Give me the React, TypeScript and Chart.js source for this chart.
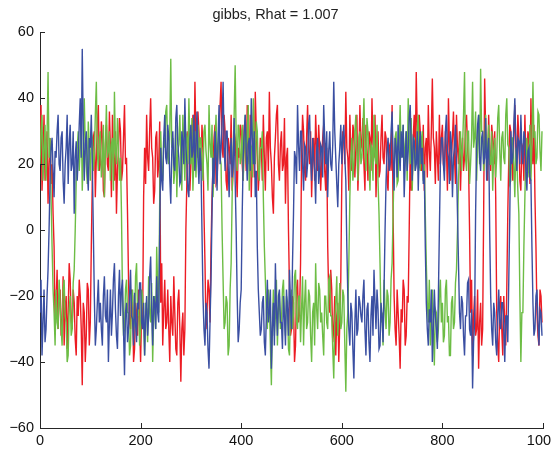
import React, { useEffect, useRef } from "react";
import { Chart, registerables } from "chart.js";

Chart.register(...registerables);

// Iteration index of each stored sample (every 2nd Gibbs iteration)
const iterations: number[] = Array.from({ length: 500 }, (_, i) => i * 2);

const xTicks = [0, 200, 400, 600, 800, 1000];
const yTicks = [-60, -40, -20, 0, 20, 40, 60];
const titleText = "gibbs, Rhat = 1.007";

// Chain 1 (red)
const redChain: number[] = [
  25, 38, 12, 22, 35, 15, 18, 30, 8, 20, 28, 14, 20, 5, -5, -28, -22, -12, -30, -20,
  -18, -32, -28, -14, -35, -24, -20, -36, -25, -10, -15, -27, -30, -18, -22, -33, -38, -20, -26, -15,
  -20, -30, -47, -22, -25, -40, -32, -16, -18, -35, -28, -5, 15, 28, 30, 10, 22, 32, 38, 18,
  20, 33, 28, 12, 10, 26, 32, 20, 18, 36, 25, 10, 35, 22, 15, 30, 5, 18, 24, 34,
  30, 15, 18, 28, 38, 20, 22, 5, -15, -28, -30, -18, -20, -40, -36, -22, -25, -32, -18, -28,
  -40, -25, -28, 10, 25, 14, 35, 22, 18, 30, 40, 25, 22, 8, 12, 28, 30, 16, 20, 33,
  -22, -10, -35, -24, -15, -30, -28, -18, -30, -40, -20, -28, -32, -14, -25, -36, -38, -22, -18, -30,
  -46, -30, -25, -38, -30, 0, 15, 30, 28, 12, 20, 25, 35, 18, 45, 28, 22, 36, 30, 20,
  18, 32, 25, 5, -10, -30, -25, -15, -18, -28, -5, 10, 20, 28, 32, 14, 15, 25, 28, 38,
  45, 25, 22, 35, 30, 15, 12, 28, 25, 20, 35, 12, 18, 30, 28, 20, 10, 25, 22, 32,
  30, 20, 15, 32, 25, 18, 38, 22, 20, 35, 10, 24, 28, 16, 42, 30, 22, 12, 18, 28,
  25, 15, 35, 22, 12, 28, 30, 18, 42, 25, 20, 10, 5, 22, 28, 35, 38, 20, 15, 26,
  30, 18, 20, 34, 8, 22, 25, 0, -18, -32, -30, -20, -22, -40, -35, -18, -15, -28, -25, -10,
  22, 35, 30, 18, 15, 28, 38, 24, 20, 30, 10, 22, 28, 15, 35, 26, 18, 32, 25, 12,
  20, 28, 32, 18, 12, 25, -5, -20, -25, -12, -18, -34, -30, -20, -38, -26, -22, -40, -28, -15,
  15, 30, 28, 20, 42, 25, 22, 12, 35, 24, 18, 32, 30, 16, 25, 35, 12, 22, 38, 26,
  25, 34, 20, 12, 32, 24, 15, 30, 28, 18, 40, 26, 22, 35, 10, 22, 30, 16, 18, 28,
  35, 22, 20, 30, 28, 15, 12, 26, 25, 18, 38, 5, -20, -30, -35, -18, -25, -32, -42, -24,
  -28, -15, -18, -35, -32, -20, -22, 0, 25, 12, 15, 28, 35, 22, 48, 30, 20, 35, 30, 18,
  22, 32, 12, 25, 28, 16, 38, 24, 18, 30, 46, 28, 25, 14, 30, 22, 15, 35, 20, 28,
  32, 20, 18, 30, 25, 12, 40, 26, 15, 22, 28, 36, 22, 14, 35, 25, 20, 30, 12, 24,
  28, 18, 22, 32, 35, 25, 20, 0, -25, -15, -38, -26, -20, -32, -30, -18, -42, -28, -22, -35,
  -30, 5, 46, 30, 25, 15, 35, 22, 18, 32, 28, 20, 30, 10, -25, -35, -40, -22, -20, -30,
  -38, -20, -28, -35, -18, 5, 22, 32, 30, 20, 15, 28, 38, 25, 20, 35, 28, 15, 12, 26,
  25, 15, 35, 22, 18, 30, 28, 14, 40, 25, 20, 32, 10, -5, -25, -32, -35, -18, -20, -28,
];

// Chain 2 (green)
const greenChain: number[] = [
  20, 30, 35, 15, 25, 32, 15, 28, 48, 22, 28, 10, -5, -18, -25, -35, -18, -28, -30, -15,
  -22, -30, -35, -18, -15, -26, -28, -40, -38, -24, -20, -32, -30, -16, -12, 0, 15, 25, 30, 18,
  25, 35, 12, 22, 40, 26, 20, 14, 33, 25, 15, 30, 28, 18, 22, 35, 45, 24, 18, 28,
  30, 16, 20, 32, 10, 25, 38, 22, 24, 30, 15, 26, 28, 12, 42, 24, 20, 34, 25, 15,
  22, 5, -20, -32, -30, -18, -15, -25, -25, -38, -35, -20, -18, -30, -28, -14, -10, -26, -22, -35,
  -30, -18, -20, -28, -38, -22, -24, -34, -14, -25, -28, -16, -40, -26, -20, -30, -5, -18, -25, 10,
  30, 18, 15, 28, 25, 36, 38, 22, 20, 30, 52, 25, 28, 14, 18, 32, 10, 24, 26, 35,
  22, 12, 35, 24, 15, 30, 28, 20, 40, 26, 20, 34, 12, 22, 30, 16, 25, 32, 18, 28,
  28, 20, 15, 30, 32, 24, 20, 12, 38, 26, 22, 32, 10, 20, 27, 35, 18, 25, 30, 22,
  20, 0, -15, -30, -28, -20, -22, -38, -35, -18, -10, 10, 25, 35, 50, 28, 18, 32, 30, 20,
  22, 32, 15, 26, 35, 20, 28, 38, 12, 24, 25, 16, 40, 28, 20, 33, 30, 18, 15, 25,
  25, 30, 10, -5, -15, -25, -30, -18, -22, -35, -47, -28, -18, -32, -26, -15, -35, -24, -20, -30,
  -28, -18, -15, -26, -32, -20, -22, -36, -38, -24, -18, -30, -25, -14, -12, -28, -30, -20, -20, -34,
  -24, -14, -35, -22, -15, -30, -28, -18, -20, -32, -40, -25, -22, -35, -10, -24, -30, -16, -18, -28,
  -25, -32, -38, -20, -20, -28, -30, -15, -14, -26, -26, -36, -45, -28, -22, -14, -32, -25, -16, -30,
  -28, -18, -20, -35, -49, -30, -25, -10, 10, 22, 28, 15, 20, 30, 35, 24, 15, 28, 30, 20,
  22, 30, 40, 25, 18, 34, 30, 20, 12, 26, 25, 15, 35, 22, 20, 32, 15, 5, -10, -28,
  -25, -35, -15, -24, -30, -18, -20, -32, -28, -15, -10, 5, 20, 28, 30, 14, 15, 26, 38, 22,
  25, 32, 18, 26, 30, 15, 40, 28, 20, 34, 12, 24, 28, 18, 22, 30, 35, 20, 18, 27,
  30, 15, 20, 5, -10, -22, -28, -15, -35, -26, -18, -30, -41, -24, -25, -34, -30, -20, -15, -28,
  -22, -34, -32, -18, -15, -28, -26, -38, -38, -22, -20, -30, -28, -16, -12, 0, 15, 24, 30, 18,
  25, 35, 48, 22, 18, 30, 30, 14, 20, 28, 45, 25, 28, 36, 15, 26, 35, 20, 49, 30,
  30, 18, 25, 35, 18, 26, 32, 20, 20, 30, 12, 24, 28, 16, 22, 34, 38, 24, 15, 28,
  30, 22, 20, 35, 40, 26, 25, 14, 15, 28, 28, 20, 10, 25, 22, 12, 5, -20, -40, -25,
  -25, -5, 10, 24, 28, 16, 20, 32, 15, 26, 45, 28, 30, 20, 22, 36, 35, 24, 18, 30,
];

// Chain 3 (blue)
const blueChain: number[] = [
  -25, -15, -38, -28, -18, -34, -30, -20, -12, 0, 15, 25, 28, 18, 10, 24, 22, 30, 35, 20,
  18, 28, 30, 15, 8, 20, 25, 35, 14, 26, 32, 18, 20, 30, 5, 22, 27, 15, 22, 32,
  40, 22, 55, 30, 15, 26, 30, 18, 12, 28, 25, 35, 20, 0, -20, -35, -30, -22, -15, -28,
  -22, -30, -35, -20, -14, -26, -28, -18, -40, -28, -18, -32, -25, -15, -10, -24, -32, -36, -20, -12,
  -26, -18, -15, -30, -44, -25, -22, -34, -30, -20, -12, -26, -27, -35, -19, -28, -34, -22, -24, -16,
  -16, -28, -30, -22, -38, -26, -20, -32, -26, -14, -8, -24, -35, -20, -22, -30, -14, -25, -28, 0,
  25, 15, 12, 28, 35, 22, 20, 32, 28, 16, 8, 24, 30, 20, 18, 34, 38, 26, 22, 14,
  15, 30, 27, 20, 40, 26, 20, 12, 10, 28, 32, 22, 24, 35, 18, 26, 36, 22, 14, 25,
  20, 0, -20, -30, -35, -22, -25, -36, -42, -28, -15, 5, 22, 14, 30, 24, 12, 28, 38, 20,
  25, 32, 45, 26, 18, 30, 30, 20, 10, 22, 28, 16, 20, 34, 15, 0, -20, -34, -30, -22,
  -18, 5, 22, 30, 35, 24, 15, 26, 28, 18, 40, 28, 20, 30, 10, 18, -5, -18, -25, -32,
  -30, -22, -20, -34, -38, -26, -15, -28, -25, -18, -42, -30, -22, -35, -10, -24, -32, -20, -18, -28,
  -28, -36, -20, -26, -35, -18, -24, -32, -12, -22, -30, -10, 5, 24, 22, 14, 38, 26, 18, 30,
  30, 20, 12, 26, 25, 16, 20, 32, 35, 22, 15, 28, 22, 18, 8, 24, 28, 14, 18, 26,
  25, 16, 38, 28, 20, 30, 10, 24, 30, 20, 18, 26, 45, 30, 22, 14, 7, 20, 25, 32,
  20, 28, 32, 22, 15, -5, -20, -30, -35, -22, -25, -36, -45, -28, -18, -32, -30, -20, -22, -26,
  -28, -20, -15, -30, -38, -24, -22, -34, -40, -26, -20, -32, -12, -22, -30, -18, -24, -36, -35, -22,
  -26, -34, -18, 0, 15, 24, 28, 18, 20, 30, 36, 22, 12, 28, 25, 16, 32, 24, 18, 30,
  22, 32, 10, 20, 30, 18, 24, 34, 38, 25, 15, 28, 27, 18, 20, 30, 12, 25, 30, 20,
  25, 14, 18, -5, -22, -30, -35, -24, -28, -18, -40, -30, -18, -26, -30, -36, -20, 0, 20, 28,
  28, 20, 15, 30, 35, 24, 22, 14, 30, 26, 10, 22, 25, 32, 20, 5, -10, -25, -30, -20,
  -22, -32, -38, -26, -26, -16, -15, -30, -32, -24, -48, -34, -28, 5, 25, 32, 35, 22, 18, 28,
  30, 20, 22, 34, 15, 24, 28, 0, -20, -30, -35, -22, -25, -34, -38, -26, -18, -28, -30, -22,
  -22, -30, -40, -26, -26, -34, -15, 5, 30, 20, 22, 32, 40, 26, 18, 28, 27, 20, 35, 25,
  20, 30, 28, 18, 12, 24, 25, 16, 15, -5, -22, -32, -30, -20, -18, -28, -35, -24, -25, -32,
];

const RED = "#ec1c24";
const GREEN = "#6dbd45";
const BLUE = "#3a4fa2";
const AXIS = "#262626";
const FONT = "'Liberation Sans', Arial, Helvetica, sans-serif";
const LINE_W = 1.4;

const inwardTicks = {
  id: "inwardTicks",
  afterDraw(chart: any) {
    const { ctx, chartArea, scales } = chart;
    ctx.save();
    ctx.strokeStyle = AXIS;
    ctx.lineWidth = 1;
    ctx.beginPath();
    for (const v of xTicks) {
      const px = Math.round(scales.x.getPixelForValue(v)) + 0.5;
      ctx.moveTo(px, chartArea.bottom);
      ctx.lineTo(px, chartArea.bottom - 5);
    }
    for (const v of yTicks) {
      const py = Math.round(scales.y.getPixelForValue(v)) + 0.5;
      ctx.moveTo(chartArea.left, py);
      ctx.lineTo(chartArea.left + 5, py);
    }
    ctx.stroke();
    ctx.restore();
  },
};

export default function App() {
  const canvasRef = useRef<HTMLCanvasElement | null>(null);

  useEffect(() => {
    const canvas = canvasRef.current;
    if (!canvas) return;
    const toPts = (arr: number[]) => arr.map((y, i) => ({ x: iterations[i], y }));
    const chart = new Chart(canvas, {
      type: "line",
      data: {
        datasets: [
          { label: "chain 3", data: toPts(blueChain), borderColor: BLUE, borderWidth: LINE_W, pointRadius: 0, tension: 0 },
          { label: "chain 2", data: toPts(greenChain), borderColor: GREEN, borderWidth: LINE_W, pointRadius: 0, tension: 0 },
          { label: "chain 1", data: toPts(redChain), borderColor: RED, borderWidth: LINE_W, pointRadius: 0, tension: 0 },
        ],
      },
      options: {
        responsive: false,
        animation: false,
        events: [],
        layout: { padding: { left: 0, right: 0, top: 0, bottom: 0 } },
        plugins: {
          legend: { display: false },
          tooltip: { enabled: false },
          title: {
            display: true,
            text: titleText,
            color: "#222",
            font: { family: FONT, size: 14.5, weight: "normal" },
            padding: { top: 6, bottom: 9 },
          },
        },
        scales: {
          x: {
            type: "linear",
            min: 0,
            max: 1000,
            afterBuildTicks: (s: any) => { s.ticks = xTicks.map((v) => ({ value: v })); },
            ticks: {
              color: "#111",
              font: { family: FONT, size: 14.5 },
              padding: 4,
              maxRotation: 0,
              autoSkip: false,
              callback: (v: any) => String(v),
            },
            grid: { display: false, drawTicks: false },
            border: { display: true, color: AXIS, width: 1 },
            afterFit: (s: any) => { s.height = 26; s.paddingLeft = 0; s.paddingRight = 8; },
          },
          y: {
            type: "linear",
            min: -60,
            max: 60,
            afterBuildTicks: (s: any) => { s.ticks = yTicks.map((v) => ({ value: v })); },
            ticks: {
              color: "#111",
              font: { family: FONT, size: 14.5 },
              padding: 6,
              autoSkip: false,
              callback: (v: any) => String(v).replace("-", "\u2212"),
            },
            grid: { display: false, drawTicks: false },
            border: { display: true, color: AXIS, width: 1 },
            afterFit: (s: any) => { s.width = 40; },
          },
        },
      },
      plugins: [inwardTicks],
    });
    return () => chart.destroy();
  }, []);

  return (
    <div style={{ position: "fixed", left: 0, top: 0, width: 551, height: 454, background: "#fff" }}>
      <canvas ref={canvasRef} width={551} height={454} style={{ display: "block" }} />
    </div>
  );
}
